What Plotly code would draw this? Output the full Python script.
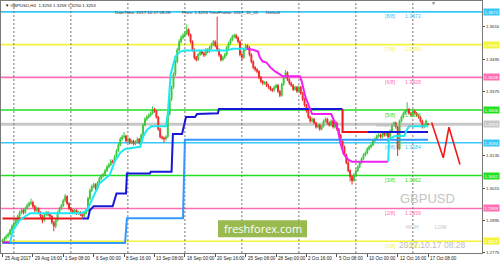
import plotly.graph_objects as go

W, H = 500, 267

# ---------------- data ----------------
label_bars = [0, 16, 32, 48, 64, 80, 96, 112, 128, 144, 160, 176, 192, 208, 224]
label_text = ["25 Aug 2017", "29 Aug 16:00", "1 Sep 08:00", "6 Sep 00:00", "8 Sep 16:00",
              "13 Sep 08:00", "18 Sep 00:00", "20 Sep 16:00", "25 Sep 08:00", "28 Sep 00:00",
              "2 Oct 16:00", "5 Oct 08:00", "10 Oct 00:00", "12 Oct 16:00", "17 Oct 08:00"]
week_bars = [6, 36, 66, 96, 126, 156, 186, 216]

closes = [
    1.2821, 1.2828, 1.2836, 1.2843, 1.2858, 1.2873, 1.2884, 1.2895, 1.2910, 1.2924,
    1.2932, 1.2924, 1.2939, 1.2950, 1.2958, 1.2961, 1.2947, 1.2932, 1.2939, 1.2924,
    1.2910, 1.2895, 1.2917, 1.2924, 1.2917, 1.2910, 1.2887, 1.2873, 1.2895, 1.2924,
    1.2939, 1.2950, 1.2969, 1.2984, 1.2958, 1.2939, 1.2932, 1.2924, 1.2932, 1.2921,
    1.2924, 1.2917, 1.2910, 1.2921, 1.2932, 1.2976, 1.3006, 1.3021, 1.3028, 1.3013,
    1.3035, 1.3050, 1.3061, 1.3065, 1.3080, 1.3094, 1.3102, 1.3116, 1.3113, 1.3132,
    1.3154, 1.3176, 1.3198, 1.3206, 1.3209, 1.3191, 1.3198, 1.3184, 1.3191, 1.3180,
    1.3187, 1.3198, 1.3184, 1.3213, 1.3250, 1.3272, 1.3280, 1.3287, 1.3294, 1.3309,
    1.3302, 1.3280, 1.3235, 1.3206, 1.3202, 1.3198, 1.3206, 1.3291, 1.3346, 1.3391,
    1.3439, 1.3487, 1.3531, 1.3561, 1.3576, 1.3584, 1.3591, 1.3605, 1.3587, 1.3561,
    1.3531, 1.3502, 1.3494, 1.3513, 1.3524, 1.3518, 1.3511, 1.3531, 1.3524, 1.3539,
    1.3550, 1.3561, 1.3546, 1.3531, 1.3511, 1.3494, 1.3502, 1.3513, 1.3539, 1.3554,
    1.3568, 1.3580, 1.3584, 1.3576, 1.3561, 1.3513, 1.3502, 1.3531, 1.3546, 1.3539,
    1.3513, 1.3487, 1.3465, 1.3457, 1.3450, 1.3428, 1.3413, 1.3406, 1.3409, 1.3398,
    1.3391, 1.3383, 1.3380, 1.3391, 1.3398, 1.3376, 1.3361, 1.3402, 1.3428, 1.3446,
    1.3420, 1.3406, 1.3398, 1.3383, 1.3391, 1.3376, 1.3391, 1.3369, 1.3346, 1.3324,
    1.3302, 1.3280, 1.3265, 1.3272, 1.3258, 1.3243, 1.3250, 1.3235, 1.3246, 1.3265,
    1.3272, 1.3258, 1.3250, 1.3265, 1.3243, 1.3258, 1.3235, 1.3213, 1.3191, 1.3169,
    1.3139, 1.3110, 1.3080, 1.3058, 1.3043, 1.3065, 1.3080, 1.3094, 1.3110, 1.3124,
    1.3139, 1.3146, 1.3161, 1.3169, 1.3176, 1.3191, 1.3198, 1.3209, 1.3213, 1.3206,
    1.3220, 1.3213, 1.3220, 1.3206, 1.3228, 1.3250, 1.3258, 1.3243, 1.3161, 1.3265,
    1.3280, 1.3294, 1.3302, 1.3309, 1.3294, 1.3287, 1.3302, 1.3294, 1.3287, 1.3280,
    1.3265, 1.3243, 1.3250, 1.3265, 1.3253,
]
highs = [
    1.2826, 1.2834, 1.2842, 1.2850, 1.2864, 1.2880, 1.2891, 1.2903, 1.2916, 1.2931,
    1.2940, 1.2937, 1.2946, 1.2958, 1.2966, 1.2976, 1.2968, 1.2952, 1.2946, 1.2943,
    1.2929, 1.2915, 1.2922, 1.2930, 1.2929, 1.2921, 1.2914, 1.2892, 1.2899, 1.2929,
    1.2945, 1.2956, 1.2975, 1.2993, 1.2988, 1.2962, 1.2944, 1.2937, 1.2938, 1.2936,
    1.2930, 1.2929, 1.2921, 1.2926, 1.2938, 1.2982, 1.3013, 1.3028, 1.3035, 1.3033,
    1.3041, 1.3057, 1.3068, 1.3072, 1.3087, 1.3101, 1.3109, 1.3123, 1.3121, 1.3139,
    1.3161, 1.3183, 1.3205, 1.3214, 1.3224, 1.3214, 1.3204, 1.3203, 1.3197, 1.3195,
    1.3193, 1.3204, 1.3202, 1.3219, 1.3257, 1.3279, 1.3287, 1.3294, 1.3301, 1.3320,
    1.3314, 1.3306, 1.3284, 1.3240, 1.3211, 1.3207, 1.3212, 1.3298, 1.3353, 1.3398,
    1.3446, 1.3494, 1.3538, 1.3570, 1.3585, 1.3593, 1.3600, 1.3625, 1.3611, 1.3592,
    1.3566, 1.3536, 1.3508, 1.3519, 1.3530, 1.3529, 1.3523, 1.3537, 1.3536, 1.3545,
    1.3557, 1.3568, 1.3566, 1.3654, 1.3536, 1.3516, 1.3508, 1.3519, 1.3545, 1.3561,
    1.3575, 1.3587, 1.3591, 1.3590, 1.3581, 1.3566, 1.3518, 1.3537, 1.3553, 1.3551,
    1.3544, 1.3518, 1.3492, 1.3470, 1.3462, 1.3455, 1.3433, 1.3418, 1.3415, 1.3414,
    1.3403, 1.3396, 1.3388, 1.3397, 1.3404, 1.3403, 1.3381, 1.3408, 1.3435, 1.3455,
    1.3451, 1.3425, 1.3411, 1.3403, 1.3397, 1.3396, 1.3397, 1.3396, 1.3374, 1.3351,
    1.3329, 1.3307, 1.3285, 1.3278, 1.3277, 1.3263, 1.3256, 1.3255, 1.3252, 1.3271,
    1.3279, 1.3277, 1.3263, 1.3271, 1.3270, 1.3264, 1.3263, 1.3240, 1.3218, 1.3196,
    1.3174, 1.3144, 1.3115, 1.3085, 1.3063, 1.3071, 1.3086, 1.3100, 1.3116, 1.3130,
    1.3145, 1.3152, 1.3167, 1.3175, 1.3182, 1.3197, 1.3204, 1.3215, 1.3220, 1.3218,
    1.3226, 1.3225, 1.3226, 1.3224, 1.3234, 1.3256, 1.3264, 1.3263, 1.3248, 1.3271,
    1.3286, 1.3300, 1.3309, 1.3335, 1.3314, 1.3299, 1.3308, 1.3307, 1.3299, 1.3292,
    1.3285, 1.3270, 1.3256, 1.3271, 1.3258,
]
lows = [
    1.2808, 1.2816, 1.2824, 1.2831, 1.2839, 1.2852, 1.2868, 1.2879, 1.2889, 1.2905,
    1.2918, 1.2917, 1.2919, 1.2934, 1.2944, 1.2952, 1.2941, 1.2926, 1.2927, 1.2918,
    1.2903, 1.2884, 1.2890, 1.2911, 1.2910, 1.2903, 1.2880, 1.2854, 1.2866, 1.2890,
    1.2919, 1.2934, 1.2945, 1.2963, 1.2951, 1.2933, 1.2926, 1.2918, 1.2919, 1.2915,
    1.2916, 1.2911, 1.2904, 1.2905, 1.2916, 1.2927, 1.2971, 1.3000, 1.3015, 1.3007,
    1.3008, 1.3030, 1.3045, 1.3055, 1.3060, 1.3075, 1.3088, 1.3097, 1.3107, 1.3108,
    1.3127, 1.3149, 1.3171, 1.3192, 1.3200, 1.3185, 1.3186, 1.3178, 1.3179, 1.3174,
    1.3175, 1.3182, 1.3178, 1.3179, 1.3208, 1.3245, 1.3266, 1.3274, 1.3281, 1.3289,
    1.3296, 1.3274, 1.3229, 1.3200, 1.3196, 1.3185, 1.3192, 1.3201, 1.3285, 1.3340,
    1.3385, 1.3433, 1.3481, 1.3525, 1.3555, 1.3569, 1.3577, 1.3585, 1.3580, 1.3554,
    1.3524, 1.3494, 1.3487, 1.3489, 1.3508, 1.3511, 1.3504, 1.3506, 1.3518, 1.3519,
    1.3533, 1.3545, 1.3540, 1.3524, 1.3504, 1.3487, 1.3488, 1.3497, 1.3508, 1.3534,
    1.3549, 1.3563, 1.3574, 1.3570, 1.3555, 1.3506, 1.3490, 1.3497, 1.3526, 1.3532,
    1.3506, 1.3480, 1.3458, 1.3450, 1.3443, 1.3421, 1.3406, 1.3399, 1.3400, 1.3392,
    1.3385, 1.3377, 1.3373, 1.3375, 1.3386, 1.3370, 1.3354, 1.3356, 1.3397, 1.3423,
    1.3414, 1.3400, 1.3392, 1.3377, 1.3378, 1.3370, 1.3371, 1.3363, 1.3340, 1.3318,
    1.3296, 1.3274, 1.3259, 1.3260, 1.3252, 1.3237, 1.3238, 1.3229, 1.3230, 1.3241,
    1.3260, 1.3252, 1.3244, 1.3245, 1.3237, 1.3238, 1.3229, 1.3207, 1.3185, 1.3163,
    1.3133, 1.3104, 1.3074, 1.3040, 1.3028, 1.3038, 1.3060, 1.3075, 1.3089, 1.3105,
    1.3119, 1.3133, 1.3141, 1.3155, 1.3163, 1.3171, 1.3185, 1.3193, 1.3203, 1.3200,
    1.3201, 1.3207, 1.3208, 1.3185, 1.3201, 1.3223, 1.3245, 1.3237, 1.3135, 1.3156,
    1.3260, 1.3275, 1.3288, 1.3296, 1.3288, 1.3281, 1.3282, 1.3288, 1.3281, 1.3274,
    1.3259, 1.3237, 1.3238, 1.3245, 1.3250,
]
first_open = 1.2815
last_bar_open = 1.3253
opens = [first_open] + closes[:-1]
opens[-1] = last_bar_open
bars = list(range(len(closes)))

level_names = ["[8/8]", "[7/8]", "[6/8]", "[5/8]", "[4/8]", "[3/8]", "[2/8]", "[1/8]"]
level_prices = [1.3672, 1.3550, 1.3428, 1.3306, 1.3184, 1.3062, 1.2939, 1.2817]
level_colors = ["#38C8F8", "#F4F43A", "#FF6EB4", "#22E022", "#38C8F8", "#22E022", "#FF6EB4", "#F4F43A"]
current_price = 1.3253
price_ticks = [1.3616, 1.3495, 1.3375, 1.3135, 1.3015, 1.2895, 1.2775]

# trailing line (magenta = down, cyan = up)
mag1_bars = [0, 4]
mag1_vals = [1.2813, 1.2813]
cyan1_bars = [4, 5.5, 7, 9, 12, 14.5, 41, 43.5, 45, 47.5, 51, 54, 56.5, 59, 62, 64.5, 72.5, 74, 76,
              78.5, 86, 87, 88.5, 91, 93.5, 96, 118.5, 121, 128.5]
cyan1_vals = [1.2813, 1.2858, 1.2873, 1.2895, 1.2910, 1.2921, 1.2921, 1.2928, 1.2939, 1.2976, 1.3032,
              1.3050, 1.3065, 1.3113, 1.3147, 1.3161, 1.3169, 1.3206, 1.3232, 1.3246, 1.3246, 1.3291,
              1.3439, 1.3506, 1.3524, 1.3528, 1.3528, 1.3535, 1.3535]
mag2_bars = [128.5, 131.8, 134.5, 135.5, 137, 139, 141, 143.5, 146, 147.5, 156.5, 157.5, 158.5, 159.5,
             161.5, 163, 173, 174.5, 176.5, 178, 179.5, 182, 184, 203]
mag2_vals = [1.3535, 1.3531, 1.3524, 1.3502, 1.3487, 1.3483, 1.3465, 1.3450, 1.3439, 1.3432, 1.3432,
             1.3413, 1.3383, 1.3354, 1.3317, 1.3291, 1.3291, 1.3265, 1.3235, 1.3180, 1.3143, 1.3121,
             1.3113, 1.3113]
cyan2_bars = [203, 203.5, 206.5, 211.5, 212.5, 214, 224]
cyan2_vals = [1.3113, 1.3198, 1.3209, 1.3209, 1.3228, 1.3246, 1.3246]

# step line (blue = up, red = down)
red1_bars = [0, 42]
red1_vals = [1.2902, 1.2902]
blue1_bars = [42, 45, 46, 48, 58, 60, 65, 65.5, 77.6, 78, 89, 89.7, 94.5, 96.6, 101.3, 102.4, 113.4, 113.9, 179]
blue1_vals = [1.2902, 1.2902, 1.2932, 1.2947, 1.2947, 1.2995, 1.2995, 1.3069, 1.3069, 1.3076, 1.3076,
              1.3217, 1.3217, 1.3280, 1.3280, 1.3291, 1.3294, 1.3310, 1.3310]
red2_bars = [179, 179, 192]
red2_vals = [1.3310, 1.3224, 1.3224]
blue2_bars = [192, 224]
blue2_vals = [1.3224, 1.3224]

# lower step line
lb_bars = [0, 64.5, 65.5, 95, 96, 224]
lb_vals = [1.2810, 1.2810, 1.2903, 1.2903, 1.3195, 1.3195]

# projected zigzag
zz_bars = [225.9, 232, 235, 240.8]
zz_vals = [1.3260, 1.3128, 1.3242, 1.3103]

# ---------------- layout helpers ----------------
def px(x):
    return x / W

def py(y):
    return 1 - y / H

XD = [px(1), px(482)]
YD = [py(255), py(1)]
XR = [-0.79, 252.4]
YR = [1.27727, 1.37127]
FONT = "Liberation Sans"

fig = go.Figure()

# horizontal levels
shapes = []
for p, c in zip(level_prices, level_colors):
    shapes.append(dict(type="line", xref="paper", yref="y", x0=XD[0], x1=XD[1], y0=p, y1=p,
                       line=dict(color=c, width=1.6), layer="below"))
shapes.append(dict(type="line", xref="paper", yref="y", x0=XD[0], x1=XD[1], y0=current_price,
                   y1=current_price, line=dict(color="#C8C8C8", width=3), layer="below"))
for b in week_bars:
    shapes.append(dict(type="line", xref="x", yref="paper", x0=b, x1=b, y0=YD[0], y1=YD[1],
                       line=dict(color="#707070", width=1, dash="2px,2px"), layer="below"))
# watermark box
shapes.append(dict(type="rect", xref="paper", yref="paper", x0=px(218), x1=px(307), y0=py(239), y1=py(222),
                   fillcolor="#8DB33C", line=dict(width=0), layer="above", opacity=0.9))

fig.add_trace(go.Candlestick(
    x=bars, open=opens, high=highs, low=lows, close=closes,
    increasing=dict(line=dict(color="#3CC83C", width=1), fillcolor="#3CC83C"),
    decreasing=dict(line=dict(color="#EE2A2A", width=1), fillcolor="#EE2A2A"),
    whiskerwidth=0, showlegend=False, hoverinfo="skip"))

def add_line(xs, ys, color, width=2):
    fig.add_trace(go.Scatter(x=xs, y=ys, mode="lines", line=dict(color=color, width=width),
                             showlegend=False, hoverinfo="skip"))

add_line(lb_bars, lb_vals, "#3399FF")
add_line(red1_bars, red1_vals, "#E81818")
add_line(blue1_bars, blue1_vals, "#1818D8")
add_line(red2_bars, red2_vals, "#E81818")
add_line(blue2_bars, blue2_vals, "#1818D8")
add_line(mag1_bars, mag1_vals, "#C020D0")
add_line(cyan1_bars, cyan1_vals, "#1EE8F4")
add_line(mag2_bars, mag2_vals, "#F020F0")
add_line(cyan2_bars, cyan2_vals, "#1EE8F4")
add_line(zz_bars, zz_vals, "#F01818", 1.6)

ann = []
# x-axis labels
for b, t in zip(label_bars, label_text):
    ann.append(dict(xref="x", yref="paper", x=b, y=py(260), text=t, showarrow=False,
                    xanchor="left", yanchor="middle", xshift=0,
                    font=dict(family=FONT, size=4.6, color="#202020")))
# level labels
for n, p, c in zip(level_names, level_prices, level_colors):
    ann.append(dict(xref="paper", yref="y", x=px(383), y=p, yshift=-4.5, text=n, showarrow=False,
                    xanchor="left", yanchor="middle", font=dict(family=FONT, size=5.2, color=c)))
    ann.append(dict(xref="paper", yref="y", x=px(403), y=p, yshift=-4.5, text=f"{p:.4f}", showarrow=False,
                    xanchor="left", yanchor="middle", font=dict(family=FONT, size=5.2, color=c)))
    ann.append(dict(xref="paper", yref="y", x=px(483), y=p, text=f"{p:.4f}", showarrow=False,
                    xanchor="left", yanchor="middle", bgcolor=c, borderpad=0.5,
                    font=dict(family=FONT, size=4.4, color="#FFFFFF")))
ann.append(dict(xref="paper", yref="y", x=px(483), y=current_price, text=f"{current_price:.4f}",
                showarrow=False, xanchor="left", yanchor="middle", bgcolor="#C8C8C8", borderpad=0.5,
                font=dict(family=FONT, size=4.4, color="#FFFFFF")))
ann.append(dict(xref="paper", yref="y", x=px(373), y=current_price, yshift=-1, text="Yesterday Close",
                showarrow=False, xanchor="left", yanchor="middle",
                font=dict(family=FONT, size=5.2, color="#B4B4B4")))
# header texts
ann.append(dict(xref="paper", yref="paper", x=px(3), y=py(6), text="▼ GBPUSD,H4  1.3253 1.3258 1.3250 1.3253",
                showarrow=False, xanchor="left", yanchor="middle", font=dict(family=FONT, size=4.4, color="#202020")))
ann.append(dict(xref="paper", yref="paper", x=px(113), y=py(12.5),
                text="DateTime: 2017.10.17 08:28",
                showarrow=False, xanchor="left", yanchor="middle", font=dict(family=FONT, size=4.4, color="#303030")))
ann.append(dict(xref="paper", yref="paper", x=px(180), y=py(12.5), text="Price: 1.3253",
                showarrow=False, xanchor="left", yanchor="middle", font=dict(family=FONT, size=4.4, color="#303030")))
ann.append(dict(xref="paper", yref="paper", x=px(207), y=py(12.5), text="TimeFrame: 2017_10_05",
                showarrow=False, xanchor="left", yanchor="middle", font=dict(family=FONT, size=4.4, color="#303030")))
ann.append(dict(xref="paper", yref="paper", x=px(264), y=py(12.5), text="Default",
                showarrow=False, xanchor="left", yanchor="middle", font=dict(family=FONT, size=4.4, color="#303030")))
ann.append(dict(xref="paper", yref="paper", x=px(433), y=py(3.5), text="▼",
                showarrow=False, xanchor="center", yanchor="middle", font=dict(family=FONT, size=5, color="#808080")))
# right-bottom texts
ann.append(dict(xref="paper", yref="paper", x=px(427), y=py(200), text="GBPUSD",
                showarrow=False, xanchor="center", yanchor="middle", font=dict(family=FONT, size=13, color="#C4C4C4")))
ann.append(dict(xref="paper", yref="paper", x=px(412), y=py(229), text="HIGH",
                showarrow=False, xanchor="center", yanchor="middle", font=dict(family=FONT, size=5, color="#BEBEBE")))
ann.append(dict(xref="paper", yref="paper", x=px(441), y=py(229), text="LOW",
                showarrow=False, xanchor="center", yanchor="middle", font=dict(family=FONT, size=5, color="#BEBEBE")))
ann.append(dict(xref="paper", yref="paper", x=px(432), y=py(246.5), text="2017.10.17 08:28",
                showarrow=False, xanchor="center", yanchor="middle", font=dict(family=FONT, size=8.5, color="#BEBEBE")))
ann.append(dict(xref="paper", yref="paper", x=px(262.5), y=py(230.5), text="freshforex.com",
                showarrow=False, xanchor="center", yanchor="middle", font=dict(family="Open Sans", size=11, color="#FFFFFF")))

fig.update_layout(
    width=W, height=H, margin=dict(l=0, r=0, t=0, b=0),
    paper_bgcolor="#FFFFFF", plot_bgcolor="#FFFFFF",
    showlegend=False, shapes=shapes, annotations=ann,
    xaxis=dict(domain=XD, range=XR, showgrid=False, zeroline=False, showline=True, mirror=True,
               linecolor="#7A7A7A", linewidth=1, ticks="outside", ticklen=3, tickcolor="#505050",
               tickvals=label_bars, showticklabels=False, rangeslider=dict(visible=False), fixedrange=True),
    yaxis=dict(domain=YD, range=YR, side="right", showgrid=False, zeroline=False, showline=True, mirror=True,
               linecolor="#7A7A7A", linewidth=1, ticks="outside", ticklen=2, tickcolor="#505050",
               tickvals=price_ticks, ticktext=[f"{v:.4f}" for v in price_ticks],
               tickfont=dict(family=FONT, size=4.4, color="#303030"), fixedrange=True),
)

fig.write_html("out.html")
